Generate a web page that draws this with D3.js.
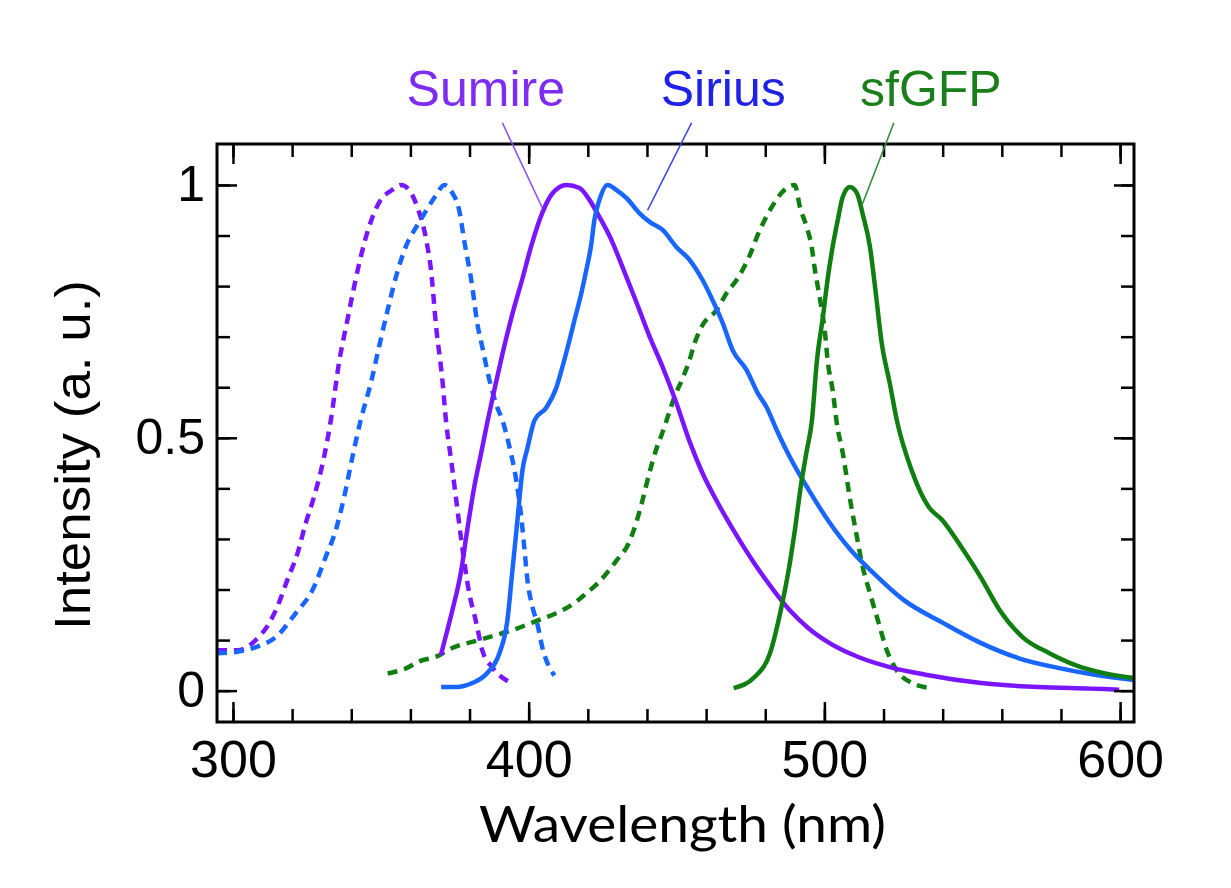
<!DOCTYPE html>
<html>
<head>
<meta charset="utf-8">
<script src="https://cdn.jsdelivr.net/npm/d3@7"></script>
<style>
  html, body { margin: 0; padding: 0; background: #fff; }
  svg { display: block; }
</style>
</head>
<body>
<svg></svg>
<script>
// Spectra: [wavelength (nm), normalised intensity]
const sumireEx = [[294.6,0.08],[301.5,0.08],[307.7,0.1],[312.2,0.133],[315.0,0.166],[318.4,0.219],[321.8,0.271],[324.6,0.331],[327.4,0.383],[330.8,0.462],[333.1,0.535],[335.9,0.65],[338.6,0.73],[340.3,0.78],[342.7,0.845],[346.0,0.917],[349.4,0.965],[353.8,0.99],[356.9,1.0],[359.6,0.99],[362.3,0.957],[365.4,0.89],[367.0,0.83],[368.7,0.72],[370.8,0.615],[372.1,0.53],[373.8,0.455],[375.5,0.377],[377.2,0.298],[379.9,0.193],[382.3,0.134],[384.3,0.08],[387.7,0.046],[394.1,0.015]];
const sumireEm = [[370.3,0.07],[372.2,0.113],[374.2,0.159],[377.2,0.238],[379.2,0.317],[381.6,0.403],[384.0,0.472],[386.0,0.53],[388.4,0.595],[391.1,0.665],[394.5,0.745],[397.9,0.815],[400.9,0.88],[404.6,0.945],[408.0,0.983],[412.8,1.0],[417.2,0.994],[420.6,0.97],[423.9,0.937],[428.0,0.891],[431.7,0.838],[436.5,0.767],[440.9,0.7],[445.3,0.64],[450.0,0.568],[454.4,0.493],[458.8,0.43],[463.6,0.375],[470.0,0.31],[476.4,0.251],[482.9,0.198],[488.3,0.159],[494.7,0.123],[501.2,0.096],[511.7,0.066],[521.8,0.047],[534.7,0.031],[553.0,0.015],[572.3,0.007],[589.9,0.004],[599.7,0.002]];
const siriusEx = [[294.6,0.074],[301.5,0.077],[308.2,0.087],[314.5,0.106],[321.2,0.153],[326.9,0.199],[331.4,0.265],[334.8,0.318],[337.6,0.383],[340.4,0.462],[343.2,0.535],[346.7,0.61],[349.4,0.68],[352.2,0.75],[355.2,0.82],[358.6,0.88],[362.0,0.917],[365.4,0.95],[368.7,0.98],[371.5,1.0],[374.2,0.984],[376.5,0.95],[378.2,0.89],[380.9,0.8],[382.6,0.727],[384.3,0.68],[386.7,0.615],[389.4,0.56],[391.1,0.535],[393.5,0.482],[395.8,0.416],[397.5,0.343],[398.5,0.284],[399.6,0.218],[401.3,0.165],[402.9,0.133],[404.6,0.086],[408.7,0.03]];
const siriusEm = [[370.4,0.007],[375.5,0.007],[380.9,0.015],[386.0,0.035],[390.1,0.074],[392.8,0.139],[394.5,0.238],[396.2,0.337],[397.9,0.436],[399.6,0.48],[402.0,0.535],[406.0,0.56],[409.4,0.6],[411.4,0.64],[413.8,0.693],[415.5,0.733],[417.8,0.786],[419.5,0.832],[421.2,0.884],[422.2,0.93],[423.9,0.97],[426.7,1.0],[429.7,0.99],[433.1,0.974],[437.5,0.944],[440.9,0.927],[445.3,0.911],[450.0,0.877],[454.4,0.852],[458.8,0.812],[462.2,0.772],[465.6,0.727],[469.0,0.673],[473.7,0.634],[477.4,0.589],[480.5,0.56],[483.9,0.515],[488.3,0.462],[494.7,0.397],[501.2,0.337],[508.9,0.278],[516.7,0.232],[526.9,0.179],[540.1,0.134],[553.0,0.094],[565.8,0.064],[579.0,0.045],[591.9,0.031],[604.7,0.021]];
const sfgfpEx = [[352.3,0.034],[358.5,0.044],[363.0,0.058],[369.8,0.07],[372.0,0.078],[384.4,0.102],[394.6,0.12],[403.6,0.14],[409.3,0.153],[416.1,0.176],[419.4,0.192],[423.3,0.212],[429.8,0.258],[433.7,0.29],[436.3,0.331],[438.2,0.37],[440.8,0.43],[443.4,0.482],[444.9,0.505],[447.0,0.541],[449.3,0.581],[452.1,0.618],[454.4,0.654],[456.1,0.687],[458.8,0.723],[463.6,0.753],[466.9,0.786],[470.3,0.812],[474.1,0.852],[478.1,0.91],[482.2,0.956],[485.6,0.985],[490.0,1.0],[491.7,0.957],[494.0,0.917],[495.7,0.878],[496.8,0.832],[498.4,0.778],[500.1,0.713],[501.2,0.648],[502.8,0.594],[504.2,0.529],[506.2,0.47],[508.9,0.371],[511.0,0.304],[512.7,0.251],[515.4,0.193],[518.1,0.139],[521.1,0.08],[524.5,0.04],[529.6,0.015],[536.0,0.005]];
const sfgfpEm = [[469.3,0.005],[476.4,0.027],[481.6,0.074],[485.5,0.166],[488.1,0.245],[490.0,0.317],[492.0,0.403],[493.9,0.47],[495.8,0.535],[497.4,0.648],[499.5,0.739],[501.2,0.818],[502.8,0.878],[504.5,0.93],[506.2,0.976],[508.6,0.996],[511.0,0.984],[513.0,0.941],[515.4,0.878],[517.1,0.8],[519.4,0.687],[522.1,0.608],[524.6,0.532],[529.5,0.436],[535.3,0.363],[539.9,0.337],[546.3,0.284],[552.8,0.225],[559.3,0.159],[567.0,0.106],[576.1,0.074],[585.1,0.05],[594.2,0.035],[604.7,0.025]];

// Axis ticks
const xMajorTicks = [300, 400, 500, 600];
const xMinorTicks = d3.range(300, 601, 20);
const yMajorTicks = [0, 0.5, 1];
const yMinorTicks = d3.range(0, 11).map(i => i / 10);

// Protein labels: name, label centre (nm, value), leader line from/to (nm, value)
const labelNames = ['Sumire', 'Sirius', 'sfGFP'];
const labelPos = [[385.5, 1.156], [465.8, 1.156], [536.0, 1.156]];
const leaderFrom = [[391.1, 1.123], [455.1, 1.123], [523.5, 1.123]];
const leaderTo = [[404.6, 0.955], [440.2, 0.95], [512.7, 0.96]];

const width = 1231, height = 888;
const svg = d3.select('svg')
    .attr('width', width)
    .attr('height', height);

const margin = {left: 217, right: 97, top: 144, bottom: 166};
const x = d3.scaleLinear().domain([294.6, 604.7]).range([margin.left, width - margin.right]);
const y = d3.scaleLinear().domain([-0.062, 1.081]).range([height - margin.bottom, margin.top]);

const colors = {
    sumire: '#7a16ff',
    sirius: '#1866ff',
    sfgfp: '#107e10'
};
const labelColors = ['#7f2cf2', '#1e22e6', '#1a7f1a'];
const leaderColors = ['#8c52ee', '#3c40e2', '#3a8c3a'];

svg.append('defs').append('clipPath').attr('id', 'plotClip')
    .append('rect')
    .attr('x', x.range()[0]).attr('y', y.range()[1])
    .attr('width', x.range()[1] - x.range()[0])
    .attr('height', y.range()[0] - y.range()[1]);

// Spectra
const line = d3.line()
    .x(d => x(d[0]))
    .y(d => y(d[1]))
    .curve(d3.curveMonotoneX);

const series = [
    {data: sumireEx, color: colors.sumire, dashed: true},
    {data: siriusEx, color: colors.sirius, dashed: true},
    {data: sfgfpEx, color: colors.sfgfp, dashed: true},
    {data: sumireEm, color: colors.sumire, dashed: false},
    {data: siriusEm, color: colors.sirius, dashed: false},
    {data: sfgfpEm, color: colors.sfgfp, dashed: false}
];

svg.append('g').attr('clip-path', 'url(#plotClip)')
    .selectAll('path')
    .data(series)
    .enter().append('path')
    .attr('d', d => line(d.data))
    .attr('fill', 'none')
    .attr('stroke', d => d.color)
    .attr('stroke-width', 4.5)
    .attr('stroke-dasharray', d => d.dashed ? '10,7' : null);

// Axes: ticks point inwards, minor every 20 nm / 0.1, major every 100 nm / 0.5
const plotW = x.range()[1] - x.range()[0];
const plotH = y.range()[0] - y.range()[1];
const majorLen = 20, minorLen = 13;

function styleAxis(g) {
    g.select('.domain').remove();
    g.selectAll('.tick line').attr('stroke', '#000').attr('stroke-width', 2.5);
}

// bottom
svg.append('g').attr('transform', `translate(0,${y.range()[0]})`)
    .call(d3.axisBottom(x).tickValues(xMinorTicks).tickSize(-minorLen).tickFormat(''))
    .call(styleAxis);
svg.append('g').attr('transform', `translate(0,${y.range()[0]})`)
    .call(d3.axisBottom(x).tickValues(xMajorTicks).tickSize(-majorLen).tickPadding(18).tickFormat(d3.format('d')))
    .call(styleAxis)
    .selectAll('text')
    .attr('fill', '#000')
    .style('font-family', '"Liberation Sans", Arial, sans-serif')
    .style('font-size', '52px');

// top
svg.append('g').attr('transform', `translate(0,${y.range()[1]})`)
    .call(d3.axisTop(x).tickValues(xMinorTicks).tickSize(-minorLen).tickFormat(''))
    .call(styleAxis);
svg.append('g').attr('transform', `translate(0,${y.range()[1]})`)
    .call(d3.axisTop(x).tickValues(xMajorTicks).tickSize(-majorLen).tickFormat(''))
    .call(styleAxis);

// left
svg.append('g').attr('transform', `translate(${x.range()[0]},0)`)
    .call(d3.axisLeft(y).tickValues(yMinorTicks).tickSize(-minorLen).tickFormat(''))
    .call(styleAxis);
svg.append('g').attr('transform', `translate(${x.range()[0]},0)`)
    .call(d3.axisLeft(y).tickValues(yMajorTicks).tickSize(-majorLen).tickPadding(12).tickFormat(d => d === 0 ? '0' : d === 1 ? '1' : '0.5'))
    .call(styleAxis)
    .selectAll('text')
    .attr('fill', '#000')
    .style('font-family', '"Liberation Sans", Arial, sans-serif')
    .style('font-size', '50px');

// right
svg.append('g').attr('transform', `translate(${x.range()[1]},0)`)
    .call(d3.axisRight(y).tickValues(yMinorTicks).tickSize(-minorLen).tickFormat(''))
    .call(styleAxis);
svg.append('g').attr('transform', `translate(${x.range()[1]},0)`)
    .call(d3.axisRight(y).tickValues(yMajorTicks).tickSize(-majorLen).tickFormat(''))
    .call(styleAxis);

// frame
svg.append('rect')
    .attr('x', x.range()[0]).attr('y', y.range()[1])
    .attr('width', plotW).attr('height', plotH)
    .attr('fill', 'none')
    .attr('stroke', '#000')
    .attr('stroke-width', 3);

// axis titles
svg.append('text')
    .attr('x', (x.range()[0] + x.range()[1]) / 2 + 7)
    .attr('y', 842)
    .attr('text-anchor', 'middle')
    .attr('textLength', 407)
    .attr('lengthAdjust', 'spacingAndGlyphs')
    .style('font-family', 'Lato, "Open Sans", sans-serif')
    .style('font-size', '51px')
    .text('Wavelength (nm)');

svg.append('text')
    .attr('transform', `translate(90,${(y.range()[0] + y.range()[1]) / 2 + 22}) rotate(-90)`)
    .attr('text-anchor', 'middle')
    .attr('textLength', 350)
    .attr('lengthAdjust', 'spacingAndGlyphs')
    .style('font-family', '"Liberation Sans", Arial, sans-serif')
    .style('font-size', '50px')
    .text('Intensity (a. u.)');

// protein labels with leader lines
const labels = labelNames.map((name, i) => ({
    name: name, pos: labelPos[i], from: leaderFrom[i], to: leaderTo[i],
    color: labelColors[i], lineColor: leaderColors[i]
}));

svg.append('g').selectAll('line')
    .data(labels)
    .enter().append('line')
    .attr('x1', d => x(d.from[0])).attr('y1', d => y(d.from[1]))
    .attr('x2', d => x(d.to[0])).attr('y2', d => y(d.to[1]))
    .attr('stroke', d => d.lineColor)
    .attr('stroke-width', 1.6);

svg.append('g').selectAll('text')
    .data(labels)
    .enter().append('text')
    .attr('x', d => x(d.pos[0]))
    .attr('y', d => y(d.pos[1]))
    .attr('text-anchor', 'middle')
    .attr('fill', d => d.color)
    .style('font-family', '"Liberation Sans", Arial, sans-serif')
    .style('font-size', '50px')
    .text(d => d.name);
</script>
</body>
</html>
